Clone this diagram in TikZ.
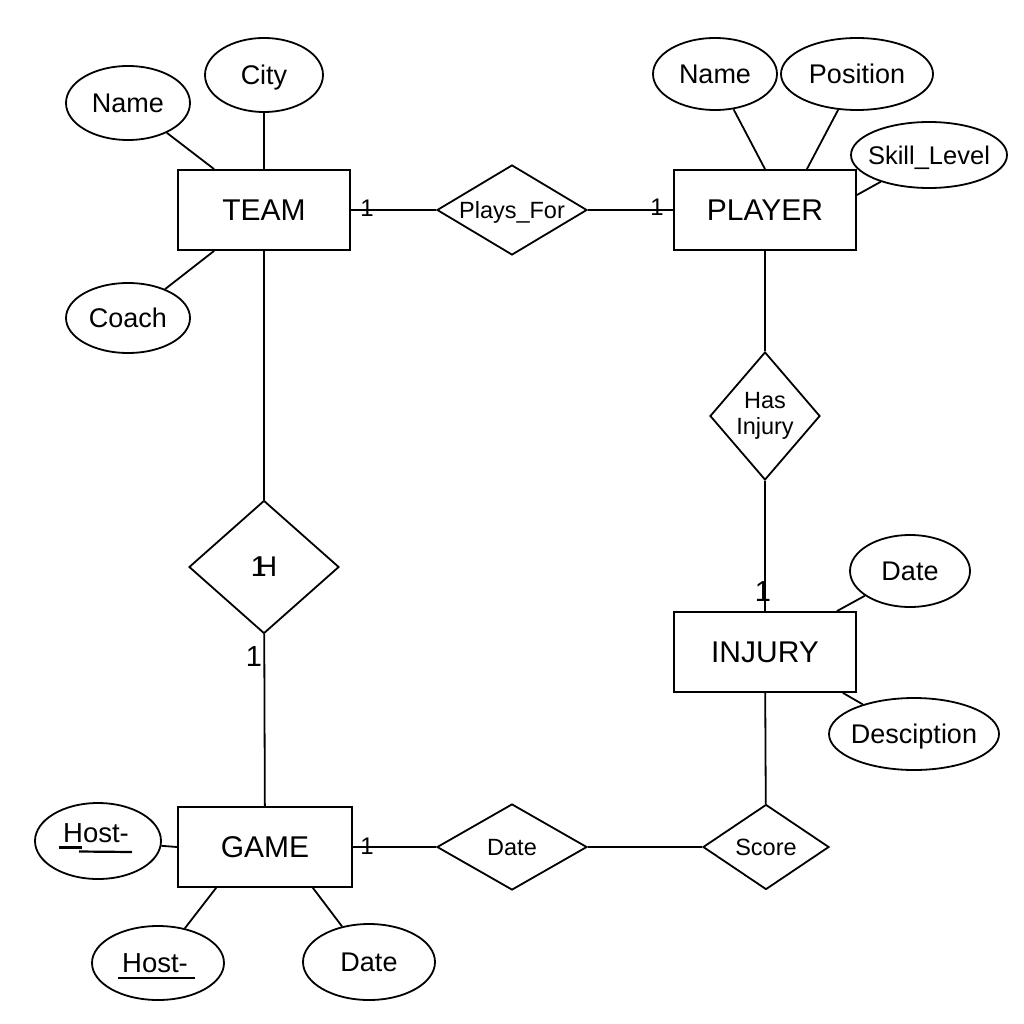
\documentclass[tikz,border=0pt]{standalone}
\usepackage{fontspec}
\setmainfont{Liberation Sans}
\usetikzlibrary{shapes.geometric}
\newcommand{\ztxt}[1]{\makebox[0pt]{#1}}
\begin{document}
\begin{tikzpicture}[x=1pt,y=-1pt, line width=1.8pt,
 entity/.style={draw, rectangle, inner sep=0pt, minimum height=80pt, font=\fontsize{30}{34}\selectfont},
 attr/.style={draw, ellipse, inner sep=0pt, text depth=0pt, font=\fontsize{27}{30}\selectfont},
 rel/.style={draw, diamond, inner sep=0pt, font=\fontsize{23.5}{26}\selectfont},
 card/.style={inner sep=0pt, font=\fontsize{24}{26}\selectfont},
 cardbig/.style={inner sep=0pt, font=\fontsize{29}{32}\selectfont},
 hosttxt/.style={inner sep=0pt, anchor=base, font=\fontsize{27.5}{30}\selectfont}]
\fill[white] (0,0) rectangle (1024,1024);
\useasboundingbox (0,0) rectangle (1024,1024);

% entities
\node[entity, minimum width=172pt] (team) at (264,210) {TEAM};
\node[entity, minimum width=182pt] (player) at (765,210) {PLAYER};
\node[entity, minimum width=182pt] (injury) at (765,652) {INJURY};
\node[entity, minimum width=174pt] (game) at (265,847) {GAME};

% relationships
\node[rel, text depth=0pt, minimum width=150pt, minimum height=90pt] (pf) at (512,210) {\ztxt{Plays\_For}};
\node[rel, minimum width=110pt, minimum height=128pt] (hasinj) at (765,416) {\ztxt{\begin{tabular}{@{}c@{}}Has\\Injury\end{tabular}}};
\node[rel, text depth=0pt, minimum width=150pt, minimum height=133pt, font=\fontsize{28.5}{32}\selectfont] (hrel) at (264,567) {\ztxt{1\kern-0.36em H}};
\node[rel, text depth=0pt, minimum width=150pt, minimum height=86pt] (dater) at (512,847) {\ztxt{Date}};
\node[rel, text depth=0pt, minimum width=126pt, minimum height=85pt] (score) at (766,847) {\ztxt{Score}};

% attributes
\node[attr, minimum width=124pt, minimum height=74pt] (nameT) at (128,103) {\ztxt{Name}};
\node[attr, minimum width=118pt, minimum height=74pt] (city) at (264,75) {\ztxt{City}};
\node[attr, minimum width=124pt, minimum height=70pt] (coach) at (128,318) {\ztxt{Coach}};
\node[attr, minimum width=124pt, minimum height=72pt] (nameP) at (715,74) {\ztxt{Name}};
\node[attr, minimum width=152pt, minimum height=72pt] (position) at (857,74) {\ztxt{Position}};
\node[attr, minimum width=156pt, minimum height=66pt, font=\fontsize{25.5}{30}\selectfont] (skill) at (929,155) {\ztxt{Skill\_Level}};
\node[attr, minimum width=120pt, minimum height=72pt] (dateI) at (910,571) {\ztxt{Date}};
\node[attr, minimum width=170pt, minimum height=72pt] (desc) at (914,734) {\ztxt{Desciption}};
\node[attr, minimum width=126pt, minimum height=76pt] (hostL) at (98,841) {};
\node[attr, minimum width=132pt, minimum height=74pt] (hostB) at (158,963) {};
\node[attr, minimum width=132pt, minimum height=76pt] (dateG) at (369,962) {\ztxt{Date}};

% Host- texts with underlines
\node[hosttxt] (hostLt) at (96,842) {Host-};
\node[hosttxt] (hostBt) at (155,972) {Host-};
\draw[line width=2.2pt] (59,847.5) -- (82,847.5);
\draw[line width=2.2pt] (79,851.5) -- (132,852);
\draw[line width=2.2pt] (118,978) -- (195,978);

% relationship connectors
\draw (team) -- (pf);
\draw (pf) -- (player);
\draw (player) -- (hasinj);
\draw (hasinj) -- (injury);
\draw (injury) -- (score);
\draw (score) -- (dater);
\draw (dater) -- (game);
\draw (game) -- (hrel);
\draw (hrel) -- (team);

% attribute connectors
\draw (nameT) -- ([xshift=37pt]team.north west);
\draw (city) -- (team);
\draw (coach) -- ([xshift=37pt]team.south west);
\draw (nameP) -- (player.north);
\draw (position) -- ([xshift=-50pt]player.north east);
\draw (skill) -- ([yshift=15pt]player.east);
\draw (dateI) -- ([xshift=-20pt]injury.north east);
\draw (desc) -- ([xshift=-14pt]injury.south east);
\draw (hostL) -- (game.west);
\draw (hostB) -- ([xshift=39pt]game.south west);
\draw (dateG) -- ([xshift=-40pt]game.south east);

% cardinalities
\node[card] (c1) at (367,208) {1};
\node[card] (c2) at (657,207) {1};
\node[cardbig] (c3) at (254,657) {1};
\node[cardbig] (c4) at (763,592) {1};
\node[card] (c5) at (367,846) {1};
\end{tikzpicture}
\end{document}
